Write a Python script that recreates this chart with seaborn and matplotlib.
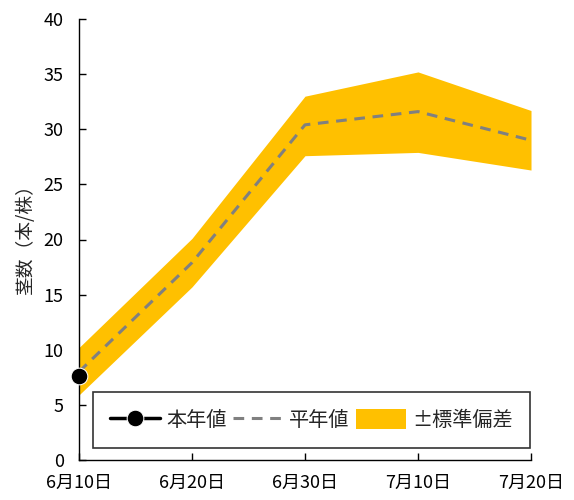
import numpy as np
import pandas as pd
import matplotlib.pyplot as plt
import seaborn as sns

# data
dates = ['6月10日', '6月20日', '6月30日', '7月10日', '7月20日']
heinen = [8.0, 17.9, 30.4, 31.6, 29.0]      # 平年値
upper = [10.2, 20.1, 33.0, 35.2, 31.7]      # 平年値 + 標準偏差
lower = [5.9, 15.7, 27.6, 27.9, 26.3]       # 平年値 - 標準偏差
honnen = [7.6]                              # 本年値

sns.set_style('white')
plt.rcParams['font.family'] = ['Noto Sans CJK JP', 'DejaVu Sans']

pos = np.arange(len(dates))
df = pd.DataFrame({'x': pos, 'mean': heinen, 'up': upper, 'lo': lower})
df_now = pd.DataFrame({'x': pos[:len(honnen)], 'val': honnen})

fig = plt.figure(figsize=(5.74, 5.0), dpi=100)
ax = fig.add_axes([0.1376, 0.08, 0.7875, 0.882])

ax.fill_between(df['x'], df['lo'], df['up'], color='#FFC000', lw=0,
                label='±標準偏差', zorder=1)
sns.lineplot(data=df, x='x', y='mean', ax=ax, color='#808080', lw=2.2,
             linestyle=(0, (3.5, 2.5)), label='平年値', zorder=2)
sns.lineplot(data=df_now, x='x', y='val', ax=ax, color='black', lw=2.5,
             marker='o', markersize=12, label='本年値', zorder=3, clip_on=False)

ax.set_xlim(0, 4)
ax.set_ylim(0, 40)
ax.set_yticks(range(0, 41, 5))
ax.set_xticks(pos)
ax.set_xticklabels(dates)
ax.set_xlabel('')
ax.set_ylabel('茎数（本/株）', fontsize=13.5, labelpad=8)
ax.yaxis.set_label_coords(-0.095, 0.51)
ax.tick_params(axis='both', direction='in', length=5, width=1, labelsize=13,
               colors='black', left=True, bottom=True)
ax.tick_params(axis='x', pad=10)
ax.tick_params(axis='y', pad=11)
for s in ['top', 'right']:
    ax.spines[s].set_visible(False)
for s in ['left', 'bottom']:
    ax.spines[s].set_color('black')
    ax.spines[s].set_linewidth(1)

h, l = ax.get_legend_handles_labels()
order = [l.index('本年値'), l.index('平年値'), l.index('±標準偏差')]
leg = ax.legend([h[i] for i in order], [l[i] for i in order], ncol=3,
                loc='lower left', bbox_to_anchor=(0.031, 0.027, 0.967, 0.127),
                mode='expand', fontsize=14.5, frameon=True, fancybox=False,
                edgecolor='black', handlelength=2.5, borderaxespad=0,
                borderpad=0.85, handleheight=1.1, handletextpad=0.3,
                columnspacing=1.0)
leg.get_frame().set_linewidth(1.2)

fig.savefig('out.png', dpi=100)
